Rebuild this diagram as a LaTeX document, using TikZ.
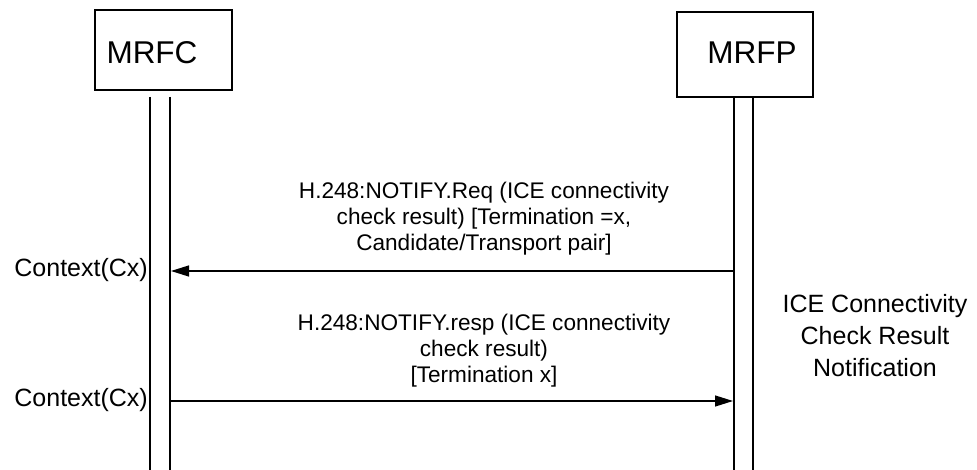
\documentclass[tikz,border=0pt]{standalone}
\usepackage{fontspec}
\setmainfont{Liberation Sans}
\usetikzlibrary{arrows.meta}

\tikzset{
    entity/.style={draw, line width=1.3pt, inner sep=0pt},
    life/.style={line width=1.2pt},
    msg/.style={line width=1.3pt, -{Triangle[length=18pt, width=11pt]}},
    msgtext/.style={inner sep=0pt, align=center, font=\fontsize{22.6}{26}\selectfont},
    ctxtext/.style={inner sep=0pt, anchor=base east, font=\fontsize{25}{30}\selectfont}
}

\begin{document}
\begin{tikzpicture}[x=1pt, y=-1pt]
    \useasboundingbox (0,0) rectangle (977,470);

    % Entity boxes
    \node[entity, minimum width=137pt, minimum height=80pt] (mrfc) at (163.5,50) {};
    \node[entity, minimum width=136pt, minimum height=85pt] (mrfp) at (745,54.5) {};
    \node[inner sep=0pt, font=\fontsize{31.5}{36}\selectfont] (mrfcName) at (152,53) {MRFC};
    \node[inner sep=0pt, font=\fontsize{31.5}{36}\selectfont] (mrfpName) at (752,53) {MRFP};

    % Lifelines (double lines)
    \coordinate (fcA) at (150,97);
    \coordinate (fcB) at (170,97);
    \coordinate (fpA) at (734,97);
    \coordinate (fpB) at (753,97);
    \draw[life] (fcA) -- (150,470);
    \draw[life] (fcB) -- (170,470);
    \draw[life] (fpA) -- (734,470);
    \draw[life] (fpB) -- (753,470);

    % NOTIFY request
    \coordinate (req0) at (734,271);
    \coordinate (req1) at (171,271);
    \draw[msg] (req0) -- (req1);
    \node[msgtext, anchor=south] (reqLabel) at (484,255)
        {H.248:NOTIFY.Req (ICE connectivity\\check result) [Termination =x,\\Candidate/Transport pair]};
    \node[ctxtext] (ctx1) at (148,277) {Context(Cx)};

    % NOTIFY response
    \coordinate (resp0) at (170,401);
    \coordinate (resp1) at (733,401);
    \draw[msg] (resp0) -- (resp1);
    \node[msgtext, anchor=south] (respLabel) at (484,387)
        {H.248:NOTIFY.resp (ICE connectivity\\check result)\\{[Termination x]}};
    \node[ctxtext] (ctx2) at (148,406) {Context(Cx)};

    % Procedure name
    \node[inner sep=0pt, anchor=north, align=center, font=\fontsize{25}{32}\selectfont] (procName) at (875,294.5)
        {ICE Connectivity\\Check Result\\Notification};
\end{tikzpicture}
\end{document}
